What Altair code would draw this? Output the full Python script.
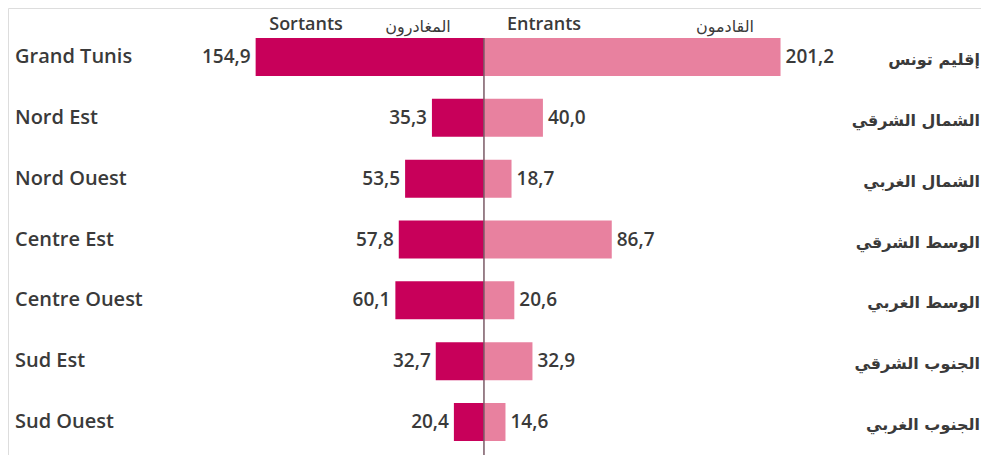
import altair as alt
import pandas as pd

regions_fr = ["Grand Tunis", "Nord Est", "Nord Ouest", "Centre Est", "Centre Ouest", "Sud Est", "Sud Ouest"]
regions_ar = ["إقليم تونس", "الشمال الشرقي", "الشمال الغربي", "الوسط الشرقي", "الوسط الغربي", "الجنوب الشرقي", "الجنوب الغربي"]
sortants = [154.9, 35.3, 53.5, 57.8, 60.1, 32.7, 20.4]
entrants = [201.2, 40.0, 18.7, 86.7, 20.6, 32.9, 14.6]

DARK = "#C8005A"
LIGHT = "#E8819F"
TXT = "#3a3a3a"

def fmt(v):
    return f"{v:.1f}".replace(".", ",")

rows = []
for fr, ar, s, e in zip(regions_fr, regions_ar, sortants, entrants):
    rows.append({"region": fr, "ar": ar, "kind": "Sortants", "val": -s, "label": fmt(s)})
    rows.append({"region": fr, "ar": ar, "kind": "Entrants", "val": e, "label": fmt(e)})
df = pd.DataFrame(rows)
reg = pd.DataFrame({"region": regions_fr, "ar": regions_ar})

W, H = 973, 447
xscale = alt.Scale(domain=[-322.9, 337.2], range=[0, W], nice=False, zero=False)
yscale = alt.Scale(domain=regions_fr, range=[30, 433], paddingInner=0.375, paddingOuter=0)

X = alt.X("val:Q", scale=xscale, axis=None)
Y = alt.Y("region:N", scale=yscale, axis=None, sort=regions_fr)

bars = alt.Chart(df).mark_bar(size=38).encode(
    x=X,
    x2=alt.datum(0),
    y=Y,
    color=alt.Color("kind:N", scale=alt.Scale(domain=["Sortants", "Entrants"], range=[DARK, LIGHT]), legend=None),
)

lab_s = alt.Chart(df[df.kind == "Sortants"]).mark_text(
    align="right", baseline="middle", dx=-5, font="Open Sans", fontWeight=600, fontSize=19, color=TXT
).encode(x=X, y=Y, text="label:N")

lab_e = alt.Chart(df[df.kind == "Entrants"]).mark_text(
    align="left", baseline="middle", dx=5, font="Open Sans", fontWeight=600, fontSize=19, color=TXT
).encode(x=X, y=Y, text="label:N")

left_lab = alt.Chart(reg).mark_text(
    align="left", baseline="middle", font="Open Sans", fontWeight=600, fontSize=20, color=TXT
).encode(x=alt.value(7), y=Y, text="region:N")

right_lab = alt.Chart(reg).mark_text(
    align="right", baseline="middle", font="DejaVu Sans", fontWeight="bold", fontSize=16, color=TXT, dy=3
).encode(x=alt.value(972), y=Y, text="ar:N")

center = alt.Chart(pd.DataFrame({"v": [0]})).mark_rule(color="#7a5a66", strokeWidth=1.5).encode(
    x=alt.X("v:Q", scale=xscale, axis=None), y=alt.value(30), y2=alt.value(H)
)

headers = pd.DataFrame({
    "t": ["Sortants", "المغادرون", "Entrants", "القادمون"],
    "xp": [298, 410, 536, 717],
    "f": ["Open Sans", "DejaVu Sans", "Open Sans", "DejaVu Sans"],
})
hx = alt.X("xp:Q", scale=alt.Scale(domain=[0, W], range=[0, W]), axis=None)
hdr_fr = alt.Chart(headers[headers.f == "Open Sans"]).mark_text(
    align="center", baseline="middle", font="Open Sans", fontWeight=600, fontSize=18, color=TXT
).encode(x=hx, y=alt.value(17), text="t:N")
hdr_ar = alt.Chart(headers[headers.f == "DejaVu Sans"]).mark_text(
    align="center", baseline="middle", font="DejaVu Sans", fontSize=16, color=TXT
).encode(x=hx, y=alt.value(19), text="t:N")

chart = alt.layer(bars, center, lab_s, lab_e, left_lab, right_lab, hdr_fr, hdr_ar).resolve_scale(
    x="independent"
).properties(
    width=W, height=H, padding=0, autosize=alt.AutoSizeParams(type="none")
).configure_view(stroke=None).configure(background="white")

chart.save("out.html", embed_options={"renderer": "svg", "actions": False})
